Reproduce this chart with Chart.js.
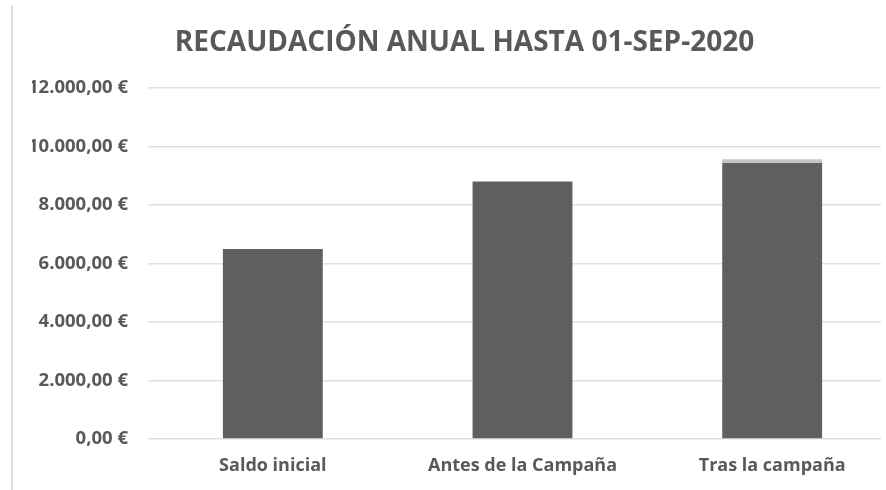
<!DOCTYPE html>
<html>
<head>
<meta charset="utf-8">
<script src="https://cdn.jsdelivr.net/npm/chart.js@4.4.1/dist/chart.umd.min.js"></script>
<style>
  html, body { margin: 0; padding: 0; background: #ffffff; overflow: hidden; width: 886px; height: 490px; }
  #wrap { position: relative; width: 886px; height: 490px; overflow: hidden; }
  #c { position: absolute; left: 0; top: 0; }
  #leftBorder { position: absolute; left: 11px; top: 5px; width: 2px; height: 485px; background: #dedede; }
  #rightMask { position: absolute; left: 881px; top: 0; width: 20px; height: 490px; background: #ffffff; }
</style>
</head>
<body>
<div id="wrap">
  <canvas id="c" width="898" height="490"></canvas>
  <div id="leftBorder"></div>
  <div id="rightMask"></div>
</div>
<script>
const categories = ['Saldo inicial', 'Antes de la Campaña', 'Tras la campaña'];
const recaudacion = [6500, 8800, 9440];
const incremento = [0, 0, 120];
const yMin = 0;
const yMax = 12000;
const yStep = 2000;
const titleText = 'RECAUDACIÓN ANUAL HASTA 01-SEP-2020';

function formatEuro(v) {
  const fixed = Math.abs(v).toFixed(2);
  const parts = fixed.split('.');
  const intPart = parts[0].replace(/\B(?=(\d{3})+(?!\d))/g, '.');
  return (v < 0 ? '-' : '') + intPart + ',' + parts[1] + ' €';
}

const textColor = '#595959';

new Chart(document.getElementById('c'), {
  type: 'bar',
  data: {
    labels: categories,
    datasets: [
      {
        label: 'Recaudación',
        data: recaudacion,
        backgroundColor: '#5f5f5f',
        borderWidth: 0,
        barPercentage: 0.4,
        categoryPercentage: 1.0
      },
      {
        label: 'Incremento',
        data: incremento,
        backgroundColor: '#c4c4c4',
        borderWidth: 0,
        barPercentage: 0.4,
        categoryPercentage: 1.0
      }
    ]
  },
  options: {
    responsive: false,
    devicePixelRatio: 1,
    animation: false,
    layout: { padding: { left: 32, right: 1, top: 0, bottom: 0 } },
    plugins: {
      legend: { display: false },
      tooltip: { enabled: false },
      title: {
        display: true,
        text: titleText,
        color: textColor,
        font: { family: '"Open Sans", sans-serif', size: 28, weight: 'bold', lineHeight: 1.2 },
        padding: { top: 26, bottom: 28.4 }
      }
    },
    scales: {
      x: {
        stacked: true,
        grid: { display: false, drawTicks: false },
        border: { display: false },
        ticks: {
          color: textColor,
          font: { family: '"Open Sans", sans-serif', size: 18, weight: 'bold' },
          padding: 16
        },
        afterFit(scale) { scale.height = 51; }
      },
      y: {
        stacked: true,
        min: yMin,
        max: yMax,
        grid: { color: '#e0e0e0', lineWidth: 1.5, drawTicks: false },
        border: { display: false },
        ticks: {
          stepSize: yStep,
          color: textColor,
          font: { family: '"Open Sans", sans-serif', size: 18.5, weight: 'bold' },
          padding: 20,
          callback: (v) => formatEuro(v)
        },
        afterFit(scale) { scale.width = 116; }
      }
    }
  }
});
</script>
</body>
</html>
